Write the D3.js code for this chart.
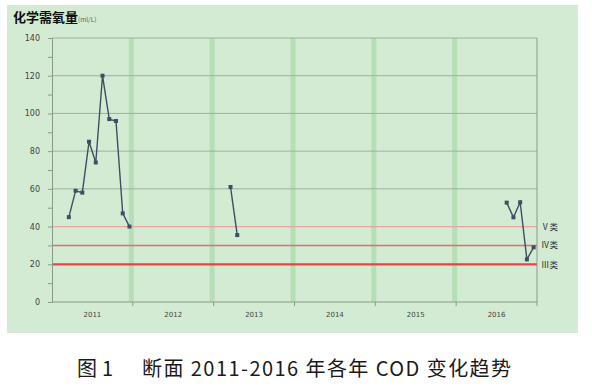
<!DOCTYPE html>
<html>
<head>
<meta charset="utf-8">
<script src="https://cdn.jsdelivr.net/npm/d3@7"></script>
<style>
  body { margin: 0; background: #fff; }
  svg { display: block; }
</style>
</head>
<body>
<div id="chart"></div>
<script>
// data
const years = ["2011", "2012", "2013", "2014", "2015", "2016"];
const pointDates = ["2011-03", "2011-04", "2011-05", "2011-06", "2011-07", "2011-08", "2011-09", "2011-10", "2011-11", "2011-12",
                    "2013-03", "2013-04",
                    "2016-08", "2016-09", "2016-10", "2016-11", "2016-12"];
const codValues = [45, 59, 58, 85, 74, 120, 97, 96, 47, 40,
                   61, 35.5,
                   52.7, 44.9, 52.9, 22.6, 29];
const yTicks = [0, 20, 40, 60, 80, 100, 120, 140];
const classLevels = [40, 30, 20];
const classLabels = ["Ⅴ类", "Ⅳ类", "Ⅲ类"];

const width = 592, height = 388;
const plot = { left: 52, right: 537, top: 38, bottom: 302 };

const svg = d3.select("#chart").append("svg")
  .attr("width", width).attr("height", height);

// green panel
svg.append("rect")
  .attr("x", 7).attr("y", 5).attr("width", 571).attr("height", 328)
  .attr("fill", "#d3ead3");

// month index since Jan 2011
const monthIndex = s => {
  const [y, m] = s.split("-").map(Number);
  return (y - 2011) * 12 + (m - 1);
};

const x = d3.scaleLinear().domain([0, years.length * 12]).range([plot.left, plot.right]);
const xYear = d3.scaleBand().domain(years).range([plot.left, plot.right]);
const y = d3.scaleLinear().domain([0, 140]).range([plot.bottom, plot.top]);

// vertical green bands at year boundaries
svg.append("g").selectAll("rect")
  .data(years.slice(1))
  .join("rect")
  .attr("x", d => xYear(d) - 4)
  .attr("y", plot.top)
  .attr("width", 5)
  .attr("height", plot.bottom - plot.top)
  .attr("fill", "#b6dfb6");

// horizontal grid
svg.append("g").selectAll("line")
  .data(yTicks.filter(d => d > 0))
  .join("line")
  .attr("x1", plot.left).attr("x2", plot.right)
  .attr("y1", d => y(d)).attr("y2", d => y(d))
  .attr("stroke", "#9fb09f").attr("stroke-width", 1);

// class threshold lines
const classStyle = [
  { color: "#f0a3a3", w: 1.2 },
  { color: "#e86a6a", w: 1.5 },
  { color: "#e04848", w: 2.2 }
];
svg.append("g").selectAll("line")
  .data(classLevels)
  .join("line")
  .attr("x1", plot.left).attr("x2", plot.right)
  .attr("y1", d => y(d)).attr("y2", d => y(d))
  .attr("stroke", (d, i) => classStyle[i].color)
  .attr("stroke-width", (d, i) => classStyle[i].w);

svg.append("g").selectAll("text")
  .data(classLevels)
  .join("text")
  .attr("x", plot.right + 4)
  .attr("y", (d, i) => y(d) + [3, 3, 4][i])
  .attr("font-family", "'Noto Sans CJK SC', sans-serif")
  .attr("font-size", 8.5)
  .attr("fill", "#333")
  .text((d, i) => classLabels[i]);

// y axis
const yAxis = svg.append("g")
  .attr("transform", `translate(${plot.left},0)`)
  .call(d3.axisLeft(y).tickValues(d3.range(0, 141, 10)).tickSize(4)
    .tickFormat(d => yTicks.includes(d) ? d : ""));
yAxis.select(".domain").attr("stroke", "#8a9a8a");
yAxis.selectAll(".tick line").attr("stroke", "#8a9a8a");
yAxis.selectAll(".tick text")
  .attr("x", -12)
  .attr("font-family", "Verdana, 'DejaVu Sans', sans-serif")
  .attr("font-size", 8)
  .attr("fill", "#444");

// right frame line
svg.append("line")
  .attr("x1", plot.right).attr("x2", plot.right)
  .attr("y1", plot.top).attr("y2", plot.bottom)
  .attr("stroke", "#8a9a8a");

// x axis
const xAxis = svg.append("g")
  .attr("transform", `translate(0,${plot.bottom})`);
xAxis.append("line")
  .attr("x1", plot.left).attr("x2", plot.right)
  .attr("stroke", "#8a9a8a");
xAxis.selectAll(".yt")
  .data(years)
  .join("line")
  .attr("class", "yt")
  .attr("x1", d => xYear(d) + xYear.bandwidth())
  .attr("x2", d => xYear(d) + xYear.bandwidth())
  .attr("y1", 0).attr("y2", 4)
  .attr("stroke", "#8a9a8a");
xAxis.selectAll("text")
  .data(years)
  .join("text")
  .attr("x", d => xYear(d) + xYear.bandwidth() / 2)
  .attr("y", 15)
  .attr("text-anchor", "middle")
  .attr("font-family", "Verdana, 'DejaVu Sans', sans-serif")
  .attr("font-size", 7)
  .attr("fill", "#444")
  .text(d => d);

// data line, broken where months are missing
const pts = pointDates.map((d, i) => ({ m: monthIndex(d), v: codValues[i] }));
const segments = [];
pts.forEach((p, i) => {
  if (i === 0 || p.m - pts[i - 1].m > 1) segments.push([]);
  segments[segments.length - 1].push(p);
});
const line = d3.line().x(d => x(d.m + 0.5)).y(d => y(d.v));
svg.append("g").selectAll("path")
  .data(segments)
  .join("path")
  .attr("d", line)
  .attr("fill", "none")
  .attr("stroke", "#3e4f63")
  .attr("stroke-width", 1.4);
svg.append("g").selectAll("rect")
  .data(pts)
  .join("rect")
  .attr("x", d => x(d.m + 0.5) - 2)
  .attr("y", d => y(d.v) - 2)
  .attr("width", 4).attr("height", 4)
  .attr("fill", "#3e4f63");

// title
const title = svg.append("text")
  .attr("x", 13).attr("y", 22)
  .attr("font-family", "'Noto Sans CJK SC', sans-serif");
title.append("tspan")
  .attr("font-size", 13).attr("font-weight", "bold").attr("fill", "#111")
  .text("化学需氧量");
title.append("tspan")
  .attr("font-size", 6.5).attr("fill", "#666")
  .text("(ml/L)");

// caption
const cap = svg.append("g")
  .attr("font-family", "'Noto Sans CJK SC', sans-serif")
  .attr("font-size", 20)
  .attr("fill", "#1a1a1a");
cap.append("text")
  .attr("x", 77).attr("y", 376)
  .attr("textLength", 36).attr("lengthAdjust", "spacing")
  .text("图 1");
cap.append("text")
  .attr("x", 142).attr("y", 376)
  .attr("textLength", 369).attr("lengthAdjust", "spacing")
  .text("断面 2011-2016 年各年 COD 变化趋势");
</script>
</body>
</html>
